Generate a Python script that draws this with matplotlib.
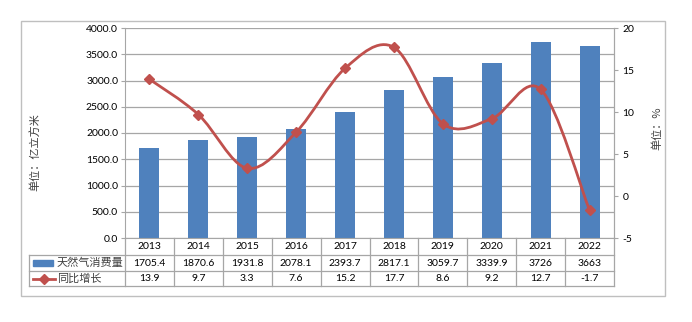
import matplotlib
matplotlib.use("Agg")
import matplotlib.pyplot as plt
from matplotlib.path import Path
from matplotlib.patches import PathPatch, Rectangle
from matplotlib.lines import Line2D
import numpy as np

plt.rcParams['font.family'] = ['Lato', 'Noto Sans CJK SC', 'DejaVu Sans']

# 数据
years = ["2013", "2014", "2015", "2016", "2017", "2018", "2019", "2020", "2021", "2022"]
consumption = [1705.4, 1870.6, 1931.8, 2078.1, 2393.7, 2817.1, 3059.7, 3339.9, 3726, 3663]
growth = [13.9, 9.7, 3.3, 7.6, 15.2, 17.7, 8.6, 9.2, 12.7, -1.7]
consumption_txt = ["1705.4", "1870.6", "1931.8", "2078.1", "2393.7", "2817.1", "3059.7", "3339.9", "3726", "3663"]
growth_txt = ["13.9", "9.7", "3.3", "7.6", "15.2", "17.7", "8.6", "9.2", "12.7", "-1.7"]
bar_name = "天然气消费量"
line_name = "同比增长"

BLUE = "#4F81BD"
RED = "#C0504D"
GRID = "#A6A6A6"
W, H = 692, 322

fig = plt.figure(figsize=(W / 100, H / 100), dpi=100)

def fx(px):
    return px / W

def fy(py):
    return 1 - py / H

# 外框
fig.patches.append(Rectangle((fx(21), fy(296)), fx(665) - fx(21), fy(21) - fy(296),
                             transform=fig.transFigure, fill=False, ec="#BFBFBF", lw=1.0))

ax = fig.add_axes([fx(125), fy(238), fx(614) - fx(125), fy(28) - fy(238)])
x = np.arange(len(years))
ax.bar(x, consumption, width=0.41, color=BLUE, zorder=2)
ax.set_xlim(-0.5, len(years) - 0.5)
ax.set_ylim(0, 4000)
ax.set_yticks(np.arange(0, 4001, 500))
ax.set_yticklabels(["%.1f" % v for v in np.arange(0, 4001, 500)], fontsize=7.5)
ax.set_xticks([])
ax.yaxis.grid(True, color=GRID, lw=0.9, zorder=0)
ax.set_axisbelow(True)
ax.tick_params(axis='y', length=3, color=GRID, pad=2)
ax.spines["top"].set_visible(False)
for s in ["left", "right", "bottom"]:
    ax.spines[s].set_color(GRID)

# 右轴：同比增长
ax2 = ax.twinx()
ax2.set_ylim(-5, 20)
ax2.set_yticks([-5, 0, 5, 10, 15, 20])
ax2.set_yticklabels(["-5", "0", "5", "10", "15", "20"], fontsize=7.5)
ax2.tick_params(axis='y', length=3, color=GRID, pad=3)
for s in ["top", "left", "bottom"]:
    ax2.spines[s].set_visible(False)
ax2.spines["right"].set_color(GRID)

# 平滑曲线 (Catmull-Rom -> Bezier)
pts = np.column_stack([x, growth]).astype(float)
ext = np.vstack([pts[0], pts, pts[-1]])
verts = [tuple(pts[0])]
codes = [Path.MOVETO]
for i in range(len(pts) - 1):
    p0, p1, p2, p3 = ext[i], ext[i + 1], ext[i + 2], ext[i + 3]
    c1 = p1 + (p2 - p0) / 6
    c2 = p2 - (p3 - p1) / 6
    verts += [tuple(c1), tuple(c2), tuple(p2)]
    codes += [Path.CURVE4] * 3
ax2.add_patch(PathPatch(Path(verts, codes), fill=False, ec=RED, lw=2, zorder=3))
ax2.plot(x, growth, ls="none", marker="D", ms=5, color=RED, zorder=4)

# 坐标换算
ah = fy(28) - fy(238)
aw = fx(614) - fx(125)
def ay(py):
    return (fy(py) - fy(238)) / ah

def axx(px):
    return (fx(px) - fx(125)) / aw

ax.set_ylabel("单位：亿立方米", fontsize=8, family=['Noto Sans CJK SC'], color="#404040")
ax.yaxis.set_label_coords(axx(40), ay(152))
ax2.set_ylabel("单位：%", fontsize=8, family=['Noto Sans CJK SC'], color="#404040", rotation=90)
ax2.yaxis.set_label_coords(axx(652), ay(128))

# 数据表
tb = ax.get_xaxis_transform()
ta = ax.transAxes
row_y = [238, 255, 271, 286]
lk = dict(color=GRID, lw=0.9, clip_on=False)
for k in range(len(years) + 1):
    ax.add_line(Line2D([k - 0.5, k - 0.5], [ay(238), ay(286)], transform=tb, **lk))
for py in row_y[1:]:
    ax.add_line(Line2D([axx(29), 1], [ay(py), ay(py)], transform=ta, **lk))
ax.add_line(Line2D([axx(29), axx(29)], [ay(255), ay(286)], transform=ta, **lk))

for i in range(len(years)):
    ax.text(i, ay(246.5), years[i], transform=tb, ha="center", va="center", fontsize=7.5)
    ax.text(i, ay(263), consumption_txt[i], transform=tb, ha="center", va="center", fontsize=7.5)
    ax.text(i, ay(278.5), growth_txt[i], transform=tb, ha="center", va="center", fontsize=7.5)

# 图例符号
ax.add_patch(Rectangle((axx(33), ay(266)), axx(53) - axx(33), ay(260) - ay(266),
                       transform=ta, color=BLUE, clip_on=False))
ax.text(axx(57), ay(263), bar_name, transform=ta, ha="left", va="center", fontsize=8,
        family=['Noto Sans CJK SC'], color="#404040")
ax.add_line(Line2D([axx(33), axx(55)], [ay(278.5), ay(278.5)], transform=ta, color=RED, lw=2,
                   clip_on=False))
ax.add_line(Line2D([axx(44)], [ay(278.5)], transform=ta, color=RED, marker="D", ms=5, clip_on=False))
ax.text(axx(57), ay(278.5), line_name, transform=ta, ha="left", va="center", fontsize=8,
        family=['Noto Sans CJK SC'], color="#404040")

fig.savefig("out.png", dpi=100)
